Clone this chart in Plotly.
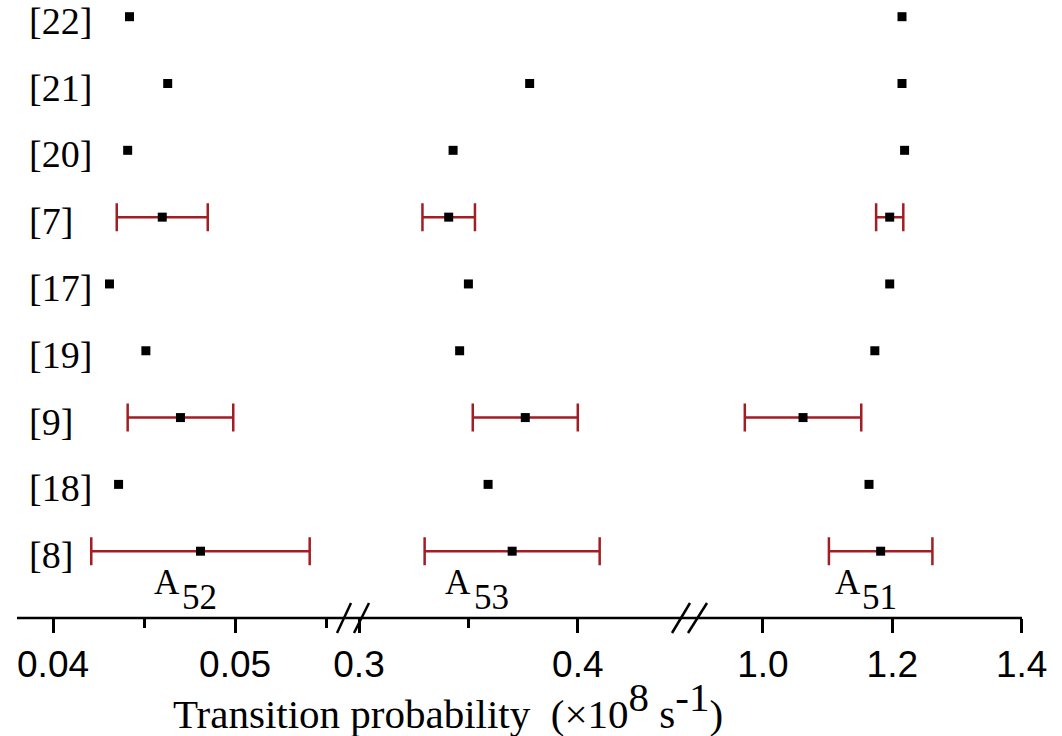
import plotly.graph_objects as go

# ---------------- data ----------------
refs = ["[22]", "[21]", "[20]", "[7]", "[17]", "[19]", "[9]", "[18]", "[8]"]

A52 = [0.0442, 0.0463, 0.0441, 0.0460, 0.0431, 0.0451, 0.0470, 0.0436, 0.0481]
A52_err = [None, None, None, 0.0025, None, None, 0.0029, None, 0.0060]

A53 = [None, 0.378, 0.343, 0.341, 0.350, 0.346, 0.376, 0.359, 0.370]
A53_err = [None, None, None, 0.012, None, None, 0.024, None, 0.040]

A51 = [1.215, 1.215, 1.219, 1.196, 1.196, 1.173, 1.062, 1.164, 1.182]
A51_err = [None, None, None, 0.021, None, None, 0.090, None, 0.080]

series = [
    ("x", A52, A52_err, "52"),
    ("x2", A53, A53_err, "53"),
    ("x3", A51, A51_err, "51"),
]

# ---------------- style ----------------
ERR_COLOR = "rgb(160,30,36)"
SERIF = "Liberation Serif, Times New Roman, serif"
SANS = "Liberation Sans, Arial, sans-serif"

fig = go.Figure()

for xa, vals, errs, _ in series:
    # points with error bars
    rows = [(r, v, e) for r, v, e in zip(refs, vals, errs) if v is not None and e is not None]
    fig.add_trace(go.Scatter(
        x=[v for _, v, _ in rows], y=[r for r, _, _ in rows],
        xaxis=xa, yaxis="y", mode="markers",
        marker=dict(symbol="square", size=9, color="black"),
        error_x=dict(type="data", array=[e for _, _, e in rows], visible=True,
                     color=ERR_COLOR, thickness=2.5, width=14),
        hoverinfo="x+y",
    ))
    # points without error bars
    rows = [(r, v) for r, v, e in zip(refs, vals, errs) if v is not None and e is None]
    fig.add_trace(go.Scatter(
        x=[v for _, v in rows], y=[r for r, _ in rows],
        xaxis=xa, yaxis="y", mode="markers",
        marker=dict(symbol="square", size=9, color="black"),
        hoverinfo="x+y",
    ))

W, H = 1062, 736
L, R, T, B = 17, 40, 0, 118
pw, ph = W - L - R, H - T - B


def px2paper_x(p):
    return (p - L) / pw


def px2paper_y(p):
    return (H - B - p) / ph


common_x = dict(
    showgrid=False, zeroline=False, showline=False,
    ticks="outside", ticklen=14, tickwidth=2.5, tickcolor="black",
    tickfont=dict(family=SANS, size=37, color="black"),
    anchor="y", automargin=False,
)

fig.update_layout(
    width=W, height=H,
    margin=dict(l=L, r=R, t=T, b=B, autoexpand=False),
    paper_bgcolor="white", plot_bgcolor="white",
    showlegend=False,
    xaxis=dict(domain=[0, px2paper_x(345)], range=[0.03802, 0.05604],
               tick0=0.04, dtick=0.01, tickformat=".2f",
               minor=dict(ticks="outside", ticklen=9, tickwidth=2.5,
                          tickcolor="black", tick0=0.04, dtick=0.005),
               **common_x),
    xaxis2=dict(domain=[px2paper_x(359), px2paper_x(685)], range=[0.3, 0.449],
                tick0=0.3, dtick=0.1, tickformat=".1f",
                minor=dict(ticks="outside", ticklen=9, tickwidth=2.5,
                           tickcolor="black", tick0=0.3, dtick=0.05),
                **common_x),
    xaxis3=dict(domain=[px2paper_x(695), 1.0], range=[0.895, 1.4005],
                tick0=1.0, dtick=0.2, tickformat=".1f",
                **common_x),
    yaxis=dict(type="category", categoryorder="array",
               categoryarray=list(reversed(refs)),
               range=[-1, 8.25], showgrid=False, zeroline=False,
               showline=False, ticks="", showticklabels=False,
               automargin=False),
)

# row labels, placed on the category scale
for r in refs:
    fig.add_annotation(text=r, xref="paper", yref="y", x=px2paper_x(27), y=r,
                       xanchor="left", yanchor="middle", showarrow=False,
                       yshift=-4,
                       font=dict(family=SERIF, size=38, color="black"))

# continuous baseline
fig.add_shape(type="line", xref="paper", yref="paper", x0=0, x1=1, y0=0, y1=0,
              line=dict(color="black", width=2.5))

# break marks
for bx, tx in [(337, 351), (354, 369), (672, 690), (688, 707)]:
    fig.add_shape(type="line", xref="paper", yref="paper",
                  x0=px2paper_x(bx), y0=px2paper_y(633),
                  x1=px2paper_x(tx), y1=px2paper_y(603),
                  line=dict(color="black", width=2.5))

# A labels (letter + lowered index)
label_pos = {"x": (0.046264, 0.048022), "x2": (0.34516, 0.36037), "x3": (1.1313, 1.1807)}
for xa, _, _, sub in series:
    ax, sx = label_pos[xa]
    fig.add_annotation(text="A", xref=xa, yref="paper", x=ax, y=px2paper_y(582),
                       xanchor="center", yanchor="middle", showarrow=False,
                       font=dict(family=SERIF, size=35, color="black"))
    fig.add_annotation(text=sub, xref=xa, yref="paper", x=sx, y=px2paper_y(597),
                       xanchor="center", yanchor="middle", showarrow=False,
                       font=dict(family=SERIF, size=35, color="black"))

# axis title
fig.add_annotation(
    text="Transition probability&nbsp; (×10<sup><span style='font-size:41px'>8</span></sup>"
         " s<sup><span style='font-size:41px'>-1</span></sup>)",
    xref="paper", yref="paper", x=px2paper_x(448), y=px2paper_y(705),
    xanchor="center", yanchor="middle", showarrow=False,
    font=dict(family=SERIF, size=41, color="black"))

fig.write_html("out.html", config={"displayModeBar": False},
               post_script="document.body.style.margin='0';")
